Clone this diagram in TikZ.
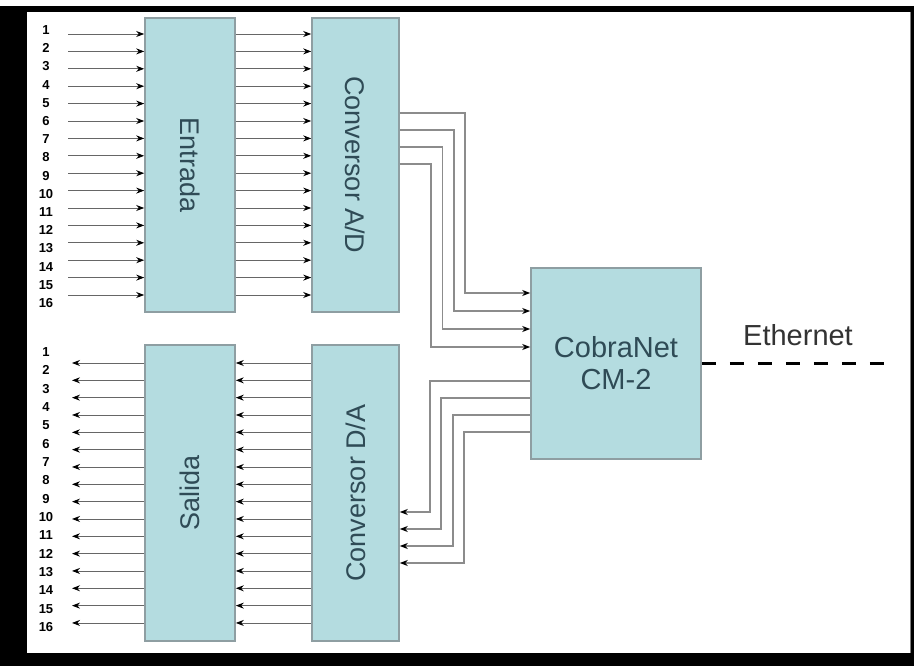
\documentclass[tikz,border=0pt]{standalone}
\usepackage{fontspec}
\setmainfont{Liberation Sans}
\usetikzlibrary{arrows.meta,positioning}

\definecolor{bloquefondo}{HTML}{B4DCE0}
\definecolor{bloqueborde}{HTML}{8E9EA2}
\definecolor{bloquetexto}{HTML}{2F4B56}
\definecolor{cable}{HTML}{8C8C8C}

\tikzset{
  bloque/.style={draw=bloqueborde,line width=1.6pt,fill=bloquefondo,inner sep=0pt},
  rotulo/.style={text=bloquetexto,font=\fontsize{27}{32}\selectfont,inner sep=0pt,align=center},
  canal/.style={draw=black!60,line width=0.9pt,-{Stealth[length=8pt,width=6pt,black]}},
  ruta/.style={draw=cable,line width=1.8pt,-{Stealth[length=8pt,width=6pt,black]}},
  num/.style={font=\bfseries\fontsize{13}{13}\selectfont,inner sep=0pt},
}

\begin{document}
\begin{tikzpicture}[x=1pt,y=-1pt,>=Stealth]
\useasboundingbox (0,0) rectangle (914,666);
\fill[white] (0,0) rectangle (914,666);
\fill[black] (0,6) rectangle (914,666);
\fill[white] (27,12) rectangle (911,653);
\draw[gray,line width=1pt] (910,12)--(910,653);

\node[bloque,minimum width=90pt,minimum height=294pt] (entrada) at (190,165) {};
\node[bloque,minimum width=87pt,minimum height=294pt] (adconv) at (355.5,165) {};
\node[bloque,minimum width=90pt,minimum height=296pt] (salida) at (190,493) {};
\node[bloque,minimum width=87pt,minimum height=296pt] (daconv) at (355.5,493) {};
\node[bloque,minimum width=170pt,minimum height=191pt] (cobra) at (616,363.5) {};
\node[rotulo,rotate=-90] (tentrada) at (entrada) {Entrada};
\node[rotulo,rotate=-90] (tadconv) at (adconv) {Conversor A/D};
\node[rotulo,rotate=90] (tsalida) at (salida) {Salida};
\node[rotulo,rotate=90] (tdaconv) at (daconv) {Conversor D/A};
\node[rotulo,font=\fontsize{29}{32}\selectfont] (tcobra) at (cobra) {CobraNet\\CM-2};

\foreach \i in {1,...,16}{
  \node[num] (nin\i) at (46,{30+(\i-1)*18.2}) {\i};
  \coordinate (ain\i) at (68,{34+(\i-1)*17.4});
  \draw[canal] (ain\i) -- (ain\i -| entrada.west);
  \draw[canal] (ain\i -| entrada.east) -- (ain\i -| adconv.west);
  \node[num] (nout\i) at (46,{352+(\i-1)*18.33}) {\i};
  \coordinate (aout\i) at (72,{363+(\i-1)*17.33});
  \draw[canal] (aout\i -| salida.west) -- (aout\i);
  \draw[canal] (aout\i -| daconv.west) -- (aout\i -| salida.east);
}

\foreach \j in {1,...,4}{
  \coordinate (sad\j) at (0,{113+(\j-1)*17});
  \coordinate (ead\j) at ({465-(\j-1)*11.3},{293+(\j-1)*18});
  \draw[ruta] (adconv.east |- sad\j) -| (ead\j) -- (cobra.west |- ead\j);
  \coordinate (sda\j) at (0,{381+(\j-1)*17});
  \coordinate (eda\j) at ({430+(\j-1)*11.3},{512+(\j-1)*17});
  \draw[ruta] (cobra.west |- sda\j) -| (eda\j) -- (daconv.east |- eda\j);
}

\coordinate (red) at (890,363.5);
\draw[line width=3pt,dash pattern=on 14pt off 14pt] (cobra.east) -- (red);
\node[text=black!80,font=\fontsize{29}{32}\selectfont] (eth) at (798,335) {Ethernet};
\end{tikzpicture}
\end{document}
